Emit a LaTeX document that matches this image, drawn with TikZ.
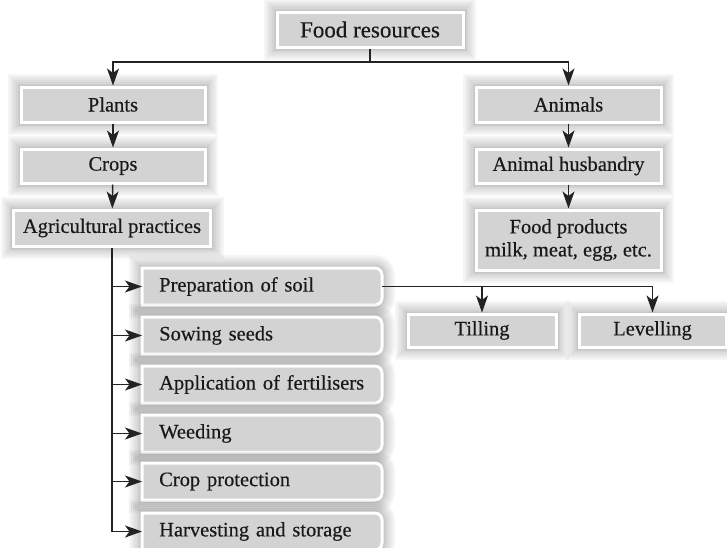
\documentclass[tikz,border=0pt]{standalone}
\usepackage{fontspec}
\setmainfont[FakeBold=0.4]{Liberation Serif}
\usetikzlibrary{arrows.meta}
\definecolor{boxgray}{RGB}{211,211,211}
\definecolor{linec}{RGB}{35,35,35}
\definecolor{textc}{RGB}{25,25,25}
\tikzset{
  bigtip/.tip={Stealth[length=17pt,width=12pt,inset=4.5pt]}
}
\begin{document}
\begin{tikzpicture}[x=1pt,y=1pt,
  glow/.style={preaction={draw=black,draw opacity=0.035,line width=26pt},
               preaction={draw=black,draw opacity=0.035,line width=22pt},
               preaction={draw=black,draw opacity=0.035,line width=18pt},
               preaction={draw=black,draw opacity=0.035,line width=14pt},
               preaction={draw=black,draw opacity=0.035,line width=10pt},
               preaction={draw=black,draw opacity=0.035,line width=7pt},
               preaction={draw=black,draw opacity=0.035,line width=5pt}},
  gbox/.style={glow, fill=boxgray, draw=white, line width=3pt, text=textc,
               font=\fontsize{20.5}{23}\selectfont, inner sep=0pt, align=center},
  lshape/.style={glow, fill=boxgray, draw=white, line width=3pt},
  ltext/.style={text=textc, font=\fontsize{20.5}{23}\selectfont, inner ysep=0pt,
               inner xsep=17pt, text width=206pt, align=left, minimum height=37pt, anchor=west},
  conn/.style={draw=linec, line width=1.4pt},
  arr/.style={conn, -bigtip}]
\useasboundingbox (0,0) rectangle (727,-547);

% left column
\node[gbox, minimum width=186pt, minimum height=35pt, font=\fontsize{23}{26}\selectfont] (food) at (370,-29.5) {Food resources};
\node[gbox, minimum width=184pt, minimum height=35pt] (plants) at (113,-104.5) {Plants};
\node[gbox, minimum width=184pt, minimum height=34pt] (crops) at (113,-166) {Crops};
\node[gbox, minimum width=197pt, minimum height=36pt] (agri) at (112,-228) {Agricultural practices};

% right column
\node[gbox, minimum width=185pt, minimum height=35pt] (animals) at (568.5,-104.5) {Animals};
\node[gbox, minimum width=185pt, minimum height=34pt] (husb) at (568.5,-166) {Animal husbandry};
\node[gbox, minimum width=185pt, minimum height=60pt] (fprod) at (568.5,-240) {Food products\\milk, meat, egg, etc.};

% list of practices
\foreach \nm/\y/\t in {prep/268/Preparation of soil, sow/317/Sowing seeds,
    appl/366/Application of fertilisers, weed/415/Weeding,
    prot/463/Crop protection, harv/513/Harvesting and storage} {
  \path[lshape] (142,-\y-37) -- (142,-\y) -- (375,-\y)
     arc[start angle=90,end angle=0,radius=7] -- (382,-\y-30)
     arc[start angle=0,end angle=-90,radius=7] -- cycle;
  \node[ltext] (\nm) at (142,-\y-18.5) {\t};
}

% tilling / levelling
\node[gbox, minimum width=148pt, minimum height=33pt] (till) at (482,-330.5) {Tilling};
\node[gbox, minimum width=147pt, minimum height=33pt] (lev) at (652.5,-330.5) {Levelling};

% connectors
\coordinate (j) at (370,-62);
\draw[conn] (food.south) -- (j);
\draw[arr] (j) -| (plants.north);
\draw[arr] (j) -| (animals.north);
\draw[arr] (plants) -- (crops);
\draw[arr] (crops) -- (agri);
\draw[arr] (animals) -- (husb);
\draw[arr] (husb) -- (fprod);

\draw[arr] (agri.south) |- (harv.west);
\foreach \nm in {prep,sow,appl,weed,prot} {
  \draw[arr] (agri.south |- \nm.west) -- (\nm.west);
}
\draw[arr] (prep.east) -| (till.north);
\draw[arr] (prep.east) -| (lev.north);
\end{tikzpicture}
\end{document}
